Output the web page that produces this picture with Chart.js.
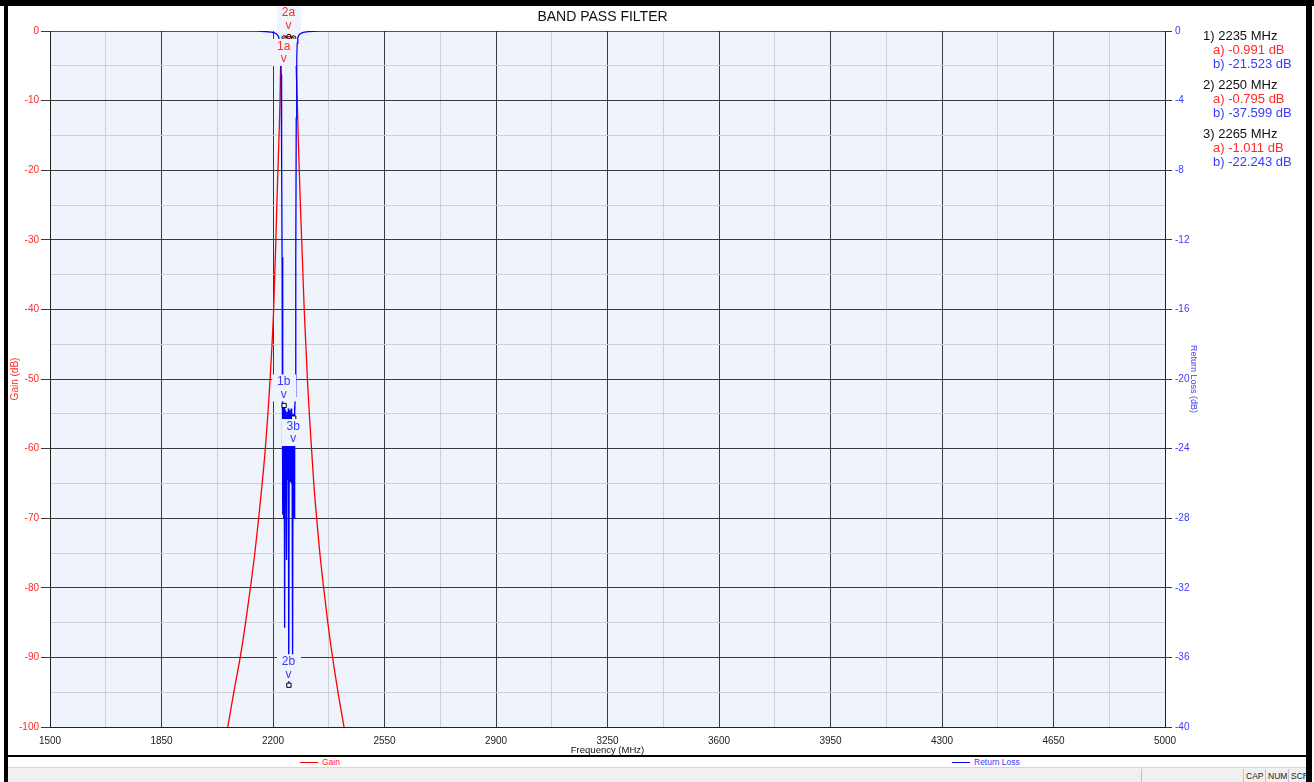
<!DOCTYPE html>
<html>
<head>
<meta charset="utf-8">
<title>Band Pass Filter</title>
<script src="https://cdn.jsdelivr.net/npm/chart.js@4.4.1/dist/chart.umd.min.js"></script>
<style>
  body { margin: 0; background: #fff; font-family: "Liberation Sans", Arial, sans-serif; }
  #wrap { position: relative; width: 1314px; height: 782px; overflow: hidden; background: #fff; }
  #chartBox { position: absolute; left: 0; top: 0; width: 1314px; height: 756px; }
  .blk { position: absolute; background: #000; }
  #markers { position: absolute; left: 1203px; top: 29px; font-size: 13px; line-height: 14px; }
  #markers div { white-space: nowrap; }
  #markers .hd { color: #111; }
  #markers .a { color: #ff2a2a; padding-left: 10px; }
  #markers .b { color: #3a3aff; padding-left: 10px; }
  #markers .gap { height: 7px; }
  .leg { position: absolute; top: 757px; font-size: 8.5px; line-height: 10px; }
  .leg span { display: inline-block; width: 18px; height: 0; border-top: 1.5px solid; vertical-align: middle; margin-right: 4px; }
  #status { position: absolute; left: 8px; top: 767px; width: 1298px; height: 15px; background: #f0f0f0; border-top: 1px solid #d6d6d6; }
  .sb { position: absolute; top: 1px; height: 14px; border-left: 1px solid #c4c4c4; font-size: 8.5px; line-height: 14px; color: #222; padding-left: 2px; white-space: nowrap; }
</style>
</head>
<body>
<div id="wrap">
  <div id="chartBox"><canvas id="bpfChart" width="1314" height="756"></canvas></div>

  <div id="markers">
    <div class="hd">1) 2235 MHz</div>
    <div class="a">a) -0.991 dB</div>
    <div class="b">b) -21.523 dB</div>
    <div class="gap"></div>
    <div class="hd">2) 2250 MHz</div>
    <div class="a">a) -0.795 dB</div>
    <div class="b">b) -37.599 dB</div>
    <div class="gap"></div>
    <div class="hd">3) 2265 MHz</div>
    <div class="a">a) -1.011 dB</div>
    <div class="b">b) -22.243 dB</div>
  </div>

  <div class="leg" style="left:300px; color:#ff2a2a;"><span style="border-color:#ff0000"></span>Gain</div>
  <div class="leg" style="left:952px; color:#3a3aff;"><span style="border-color:#0000ff"></span>Return Loss</div>

  <div id="status">
    <div class="sb" style="left:1133px; width:100px;"></div>
    <div class="sb" style="left:1235px;">CAP</div>
    <div class="sb" style="left:1257px;">NUM</div>
    <div class="sb" style="left:1280px;">SCR</div>
  </div>

  <div class="blk" style="left:0; top:0; width:1314px; height:6px;"></div>
  <div class="blk" style="left:4px; top:0; width:4px; height:782px;"></div>
  <div class="blk" style="left:1306px; top:0; width:6px; height:782px;"></div>
  <div class="blk" style="left:4px; top:755px; width:1306px; height:2px;"></div>
</div>

<script>
// Tick labels
const xTickLabels = [1500, 1850, 2200, 2550, 2900, 3250, 3600, 3950, 4300, 4650, 5000];
const gainTickLabels = [0, -10, -20, -30, -40, -50, -60, -70, -80, -90, -100];
const rlTickLabels = [0, -4, -8, -12, -16, -20, -24, -28, -32, -36, -40];

// Gain (S21)
const gainFreq = [2040, 2058, 2077, 2097, 2114, 2129, 2143, 2155, 2166, 2176, 2184, 2191, 2197, 2202,
  2205.5, 2209, 2212, 2215.5, 2219, 2222, 2223.5, 2225, 2227, 2230, 2235, 2240, 2245, 2250, 2255, 2260,
  2265, 2268, 2271, 2273, 2276, 2279, 2282.5, 2286, 2290, 2294, 2298, 2303, 2308, 2314, 2321, 2328,
  2337, 2347, 2359, 2372, 2387, 2404, 2423, 2440];
const gainDb = [-104.5, -100, -95, -90, -85, -80, -75, -70, -65, -60, -55, -50, -45, -40,
  -35, -30, -25, -20, -15, -10, -6, -3.5, -2, -1.3, -0.991, -0.85, -0.8, -0.795, -0.82, -0.9,
  -1.011, -1.5, -3, -5.5, -10, -15, -20, -25, -30, -35, -40, -45, -50, -55, -60, -65,
  -70, -75, -80, -85, -90, -95, -100, -104];

// Return loss (S11)
const rlFreq = [1500, 2150, 2175, 2195, 2205, 2212, 2217, 2220, 2222, 2224, 2225.5, 2227, 2228.5,
  2230, 2231, 2232, 2233, 2234, 2235, 2236, 2237, 2238, 2239, 2240, 2241, 2242, 2243, 2244, 2245,
  2246, 2247, 2248, 2249, 2250, 2251, 2252, 2253, 2254, 2255, 2256, 2257, 2258, 2259, 2260, 2261,
  2262, 2263, 2264, 2265, 2266, 2267, 2268, 2269, 2270,
  2271.5, 2273, 2274.5, 2276, 2278, 2281, 2286, 2295, 2310, 2330, 2345, 5000];
const rlDb = [0, 0, -0.03, -0.06, -0.1, -0.18, -0.3, -0.5, -0.8, -1.3, -2.5, -7, -13,
  -21.0, -27.8, -21.6, -28.0, -21.5, -21.523, -27.5, -34.3, -22.0, -26.0, -21.8, -25.6, -22.2, -30.4, -21.9, -25.8,
  -22.1, -25.4, -21.7, -26.2, -37.599, -22.3, -25.5, -21.8, -25.9, -22.0, -25.3, -21.7, -26.0, -22.2, -25.6, -31.7,
  -36.5, -22.0, -27.6, -22.243, -28.0, -21.6, -27.8, -21.9, -21.0,
  -13, -5, -1.5, -0.7, -0.4, -0.25, -0.15, -0.08, -0.04, -0.02, 0, 0];

// Markers
const markerFreq = [2235, 2250, 2265];
const markerGain = [-0.991, -0.795, -1.011];
const markerRL = [-21.523, -37.599, -22.243];

Chart.defaults.font.family = '"Liberation Sans", Arial, sans-serif';

const plotBg = '#eef3fc';
const majorGrid = '#3a3a3a';
const minorGrid = '#cdd0d6';

function withMidpoints(values) {
  const sorted = [...values].sort((a, b) => a - b);
  const out = [];
  sorted.forEach((v, i) => {
    out.push({ value: v });
    if (i < sorted.length - 1) out.push({ value: (v + sorted[i + 1]) / 2 });
  });
  return out;
}

// plot background
const plotBackground = {
  id: 'plotBackground',
  beforeDraw(chart) {
    const { ctx, chartArea: a } = chart;
    ctx.save();
    ctx.fillStyle = plotBg;
    ctx.fillRect(a.left, a.top, a.right - a.left, a.bottom - a.top);
    ctx.restore();
  }
};

// marker labels ("1a v" etc.) with their little background boxes
const markerLabels = [
  { text: '2a', idx: 1, axis: 'y', color: '#ff2a2a', below: false },
  { text: '1a', idx: 0, axis: 'y', color: '#ff2a2a', below: true },
  { text: '1b', idx: 0, axis: 'y2', color: '#3a3aff', below: false },
  { text: '3b', idx: 2, axis: 'y2', color: '#3a3aff', below: true },
  { text: '2b', idx: 1, axis: 'y2', color: '#3a3aff', below: false }
];
const markerLabelPlugin = {
  id: 'markerLabels',
  afterDatasetsDraw(chart) {
    const { ctx, scales } = chart;
    ctx.save();
    ctx.font = '12px "Liberation Sans", Arial, sans-serif';
    ctx.textAlign = 'center';
    ctx.textBaseline = 'middle';
    markerLabels.forEach(m => {
      const val = m.axis === 'y' ? markerGain[m.idx] : markerRL[m.idx];
      const px = scales.x.getPixelForValue(markerFreq[m.idx]);
      const py = scales[m.axis].getPixelForValue(val);
      const top = m.below ? py + 1 : py - 31;
      ctx.fillStyle = plotBg;
      ctx.fillRect(px - 12, top, 24, 27);
      ctx.fillStyle = m.color;
      ctx.fillText(m.text, px - 0.5, top + 7.5);
      ctx.fillText('v', px - 0.5, top + 20);
    });
    ctx.restore();
  }
};

const ctx = document.getElementById('bpfChart').getContext('2d');
new Chart(ctx, {
  type: 'line',
  data: {
    datasets: [
      {
        label: 'Gain markers',
        data: markerFreq.map((f, i) => ({ x: f, y: markerGain[i] })),
        yAxisID: 'y',
        showLine: false,
        pointStyle: 'circle',
        pointRadius: 2.2,
        pointBorderWidth: 1,
        pointBorderColor: '#000',
        pointBackgroundColor: 'rgba(0,0,0,0)',
        order: 0
      },
      {
        label: 'RL markers',
        data: markerFreq.map((f, i) => ({ x: f, y: markerRL[i] })),
        yAxisID: 'y2',
        showLine: false,
        pointStyle: 'rect',
        pointRadius: 3,
        pointBorderWidth: 1,
        pointBorderColor: '#000',
        pointBackgroundColor: '#fff',
        order: 0
      },
      {
        label: 'Return Loss',
        data: rlFreq.map((f, i) => ({ x: f, y: rlDb[i] })),
        yAxisID: 'y2',
        borderColor: '#0000ff',
        borderWidth: 1.3,
        pointRadius: 0,
        tension: 0,
        clip: 0,
        order: 1
      },
      {
        label: 'Gain',
        data: gainFreq.map((f, i) => ({ x: f, y: gainDb[i] })),
        yAxisID: 'y',
        borderColor: '#ff0000',
        borderWidth: 1.3,
        pointRadius: 0,
        cubicInterpolationMode: 'monotone',
        clip: 0,
        order: 2
      }
    ]
  },
  options: {
    responsive: false,
    animation: false,
    devicePixelRatio: 1,
    layout: { padding: { left: 0, right: 109, top: 0, bottom: 0 } },
    plugins: {
      legend: { display: false },
      tooltip: { enabled: false },
      title: {
        display: true,
        text: 'BAND PASS FILTER',
        color: '#111',
        font: { size: 14, weight: 'normal' },
        padding: { top: 9, bottom: 5.2 }
      }
    },
    scales: {
      x: {
        type: 'linear',
        min: 1500,
        max: 5000,
        afterBuildTicks: s => { s.ticks = withMidpoints(xTickLabels); },
        afterFit: s => { s.height = 29; },
        ticks: {
          autoSkip: false,
          maxRotation: 0,
          color: '#222',
          font: { size: 10 },
          padding: 2,
          callback: v => xTickLabels.includes(v) ? String(v) : ''
        },
        grid: {
          color: c => c.tick && xTickLabels.includes(c.tick.value) ? majorGrid : minorGrid,
          tickColor: 'rgba(0,0,0,0)',
          tickLength: 6
        },
        border: { color: '#222' },
        title: { display: true, text: 'Frequency (MHz)', color: '#111', font: { size: 9.5 }, padding: 0 }
      },
      y: {
        position: 'left',
        min: -100,
        max: 0,
        afterBuildTicks: s => { s.ticks = withMidpoints(gainTickLabels); },
        afterFit: s => { s.width = 50; },
        ticks: {
          autoSkip: false,
          color: '#ff2a2a',
          font: { size: 10 },
          padding: 2,
          callback: v => gainTickLabels.includes(v) ? String(v) : ''
        },
        grid: {
          color: c => {
            if (!c.tick) return minorGrid;
            if (c.tick.value === 0) return 'rgba(0,0,0,0)';
            return gainTickLabels.includes(c.tick.value) ? majorGrid : minorGrid;
          },
          tickColor: c => c.tick && gainTickLabels.includes(c.tick.value) ? majorGrid : 'rgba(0,0,0,0)',
          tickLength: 9
        },
        border: { color: '#222' },
        title: { display: true, text: 'Gain (dB)', color: '#ff2a2a', font: { size: 10 }, padding: { top: 9 } }
      },
      y2: {
        position: 'right',
        min: -40,
        max: 0,
        afterBuildTicks: s => { s.ticks = withMidpoints(rlTickLabels); },
        afterFit: s => { s.width = 40; },
        ticks: {
          autoSkip: false,
          color: '#3a3aff',
          font: { size: 10 },
          padding: 3,
          callback: v => rlTickLabels.includes(v) ? String(v) : ''
        },
        grid: {
          drawOnChartArea: false,
          tickColor: c => c.tick && rlTickLabels.includes(c.tick.value) ? majorGrid : 'rgba(0,0,0,0)',
          tickLength: 7
        },
        border: { color: '#222' },
        title: { display: true, text: 'Return Loss (dB)', color: '#3a3aff', font: { size: 9 }, padding: { top: 6.6 } }
      }
    }
  },
  plugins: [plotBackground, markerLabelPlugin]
});
</script>
</body>
</html>
